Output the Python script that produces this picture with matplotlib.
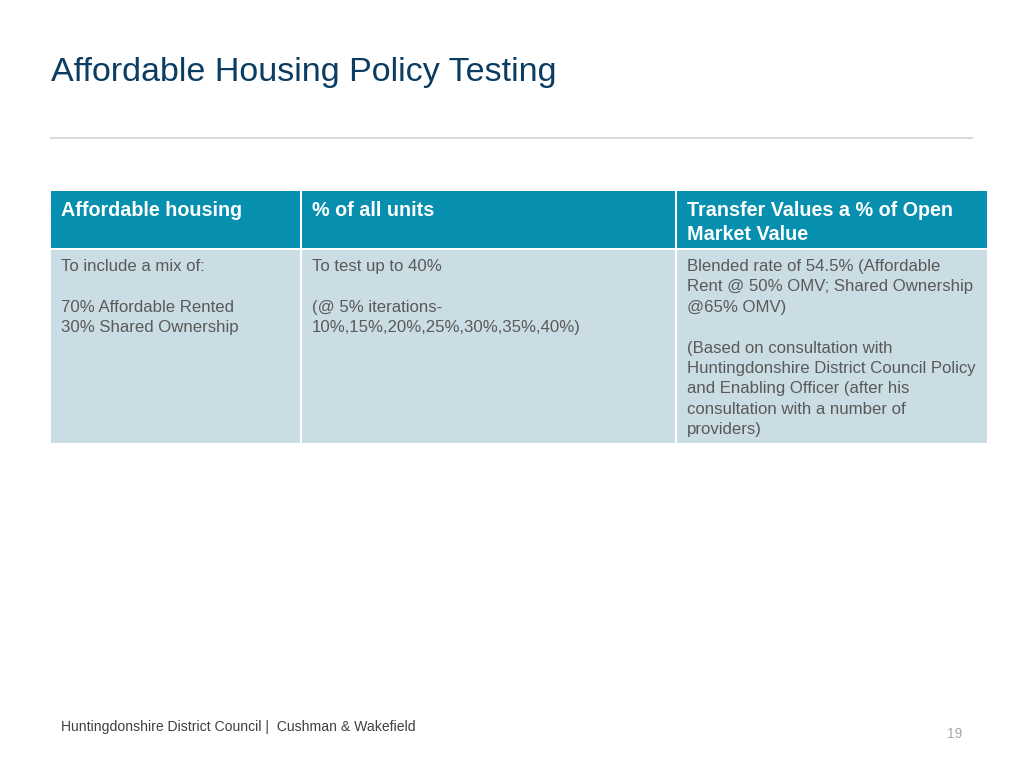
import matplotlib.pyplot as plt
from matplotlib.patches import Rectangle

plt.rcParams['font.family'] = ['Liberation Sans', 'DejaVu Sans']

title = "Affordable Housing Policy Testing"
headers = ["Affordable housing", "% of all units", "Transfer Values a % of Open\nMarket Value"]
body = [
    "To include a mix of:\n\n70% Affordable Rented\n30% Shared Ownership",
    "To test up to 40%\n\n(@ 5% iterations-\n10%,15%,20%,25%,30%,35%,40%)",
    "Blended rate of 54.5% (Affordable\nRent @ 50% OMV; Shared Ownership\n@65% OMV)\n\n(Based on consultation with\n"
    "Huntingdonshire District Council Policy\nand Enabling Officer (after his\nconsultation with a number of\nproviders)",
]
footer = "Huntingdonshire District Council |  Cushman & Wakefield"
page_no = "19"

# column edges in pixels
col_x = [51, 302, 677, 989]
head_top, head_bot = 191, 248
body_top, body_bot = 250, 443

fig = plt.figure(figsize=(10.24, 7.68), dpi=100)
ax = fig.add_axes([0, 0, 1, 1])
ax.set_xlim(0, 1024)
ax.set_ylim(768, 0)
ax.axis('off')

ax.text(51, 72, title, fontsize=24.5, color='#0B3C61', va='center', ha='left')
ax.plot([51, 972], [137.5, 137.5], color='#D9D9D9', lw=1.5)

for i in range(3):
    x0, x1 = col_x[i], col_x[i + 1]
    ax.add_patch(Rectangle((x0, head_top), x1 - x0 - 2, head_bot - head_top,
                           facecolor='#068FAF', edgecolor='none'))
    ax.add_patch(Rectangle((x0, body_top), x1 - x0 - 2, body_bot - body_top,
                           facecolor='#CADDE4', edgecolor='none'))
    ax.text(x0 + 10, 201, headers[i], fontsize=14.2, fontweight='bold', color='white',
            va='top', ha='left', linespacing=1.33)
    ax.text(x0 + 10, 259, body[i], fontsize=12.1, color='#595959',
            va='top', ha='left', linespacing=1.45)

ax.text(61, 727, footer, fontsize=10.1, color='#404040', va='center', ha='left')
ax.text(955, 734, page_no, fontsize=10, color='#A6A6A6', va='center', ha='center')

fig.savefig('out.png', dpi=100)
